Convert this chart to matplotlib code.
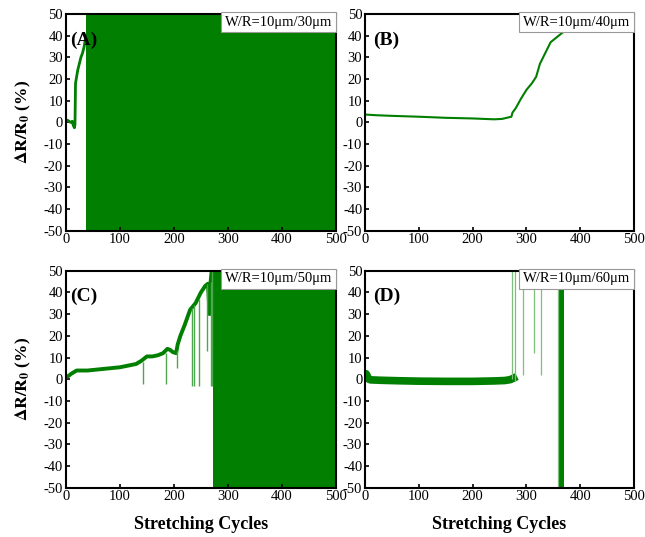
import numpy as np
import matplotlib
matplotlib.use("Agg")
import matplotlib.pyplot as plt

plt.rcParams['font.family'] = ['Liberation Serif', 'DejaVu Serif']
plt.rcParams['mathtext.fontset'] = 'stix'
plt.rcParams['axes.unicode_minus'] = False

GREEN = '#007f00'

### panel A: trace before failure, then broken (noise fills whole range)
a_x = [0, 3, 6, 9, 12, 14, 16, 17, 18, 20, 22, 25, 28, 31, 34, 36]
a_y = [0.5, 1, 0.5, 0, 0.5, -1.5, -2.5, -1, 18, 21, 24, 27, 30, 32, 35, 38]
a_burst_x = [36.5, 500]

### panel B: smooth trace
b_x = [0, 20, 50, 100, 150, 200, 240, 255, 265, 272, 274, 280, 290, 300, 310, 318, 325,
       335, 345, 360, 380, 400, 420]
b_y = [3.6, 3.3, 3.0, 2.6, 2.1, 1.8, 1.4, 1.6, 2.2, 2.6, 4.5, 6.5, 11, 15, 18, 21, 27,
       32, 37, 40, 44, 47, 50]

### panel C: noisy trace, spikes, then broken
c_x = [0, 5, 10, 20, 40, 60, 80, 100, 120, 130, 140, 150, 160, 170, 180, 188, 193, 198, 204,
       207, 212, 220, 230, 240, 250, 258, 263, 266, 268, 270]
c_y = [1, 1.5, 2.5, 4, 4, 4.5, 5, 5.5, 6.5, 7, 8.5, 10.5, 10.5, 11, 12, 14, 13.5, 12.5, 12,
       16, 20, 25, 32, 35, 40, 43, 44, 30, 45, 50]
c_spike_x = [143, 186, 205, 234, 237, 246, 261, 268, 270]
c_spike_lo = [-2, -2, 5, -3, -3, -3, 13, -3, -3]
c_spike_hi = [8, 12, 13, 33, 34, 37, 44, 45, 50]
c_burst_x = [272.5, 500]

### panel D: flat band, a few spikes, short broken burst
d_x = [0, 2, 4, 7, 10, 30, 60, 100, 150, 200, 240, 260, 270, 276]
d_y = [1, 2.5, 1.5, 0, -0.3, -0.5, -0.7, -0.9, -1.0, -1.0, -0.8, -0.6, -0.2, 0.5]
d_spike_x = [274, 279, 293, 314, 327, 358]
d_spike_lo = [0, -1, 2, 12, 2, -50]
d_spike_hi = [50, 50, 50, 50, 50, 50]
d_burst_x = [359, 370.5]

labels = ['W/R=10μm/30μm', 'W/R=10μm/40μm', 'W/R=10μm/50μm', 'W/R=10μm/60μm']
letters = ['(A)', '(B)', '(C)', '(D)']

fig = plt.figure(figsize=(6.45, 5.37), dpi=100)
pos = [[0.102, 0.5704, 0.419, 0.4035], [0.566, 0.5704, 0.417, 0.4035],
       [0.102, 0.0918, 0.419, 0.4041], [0.566, 0.0918, 0.417, 0.4041]]
axs = [fig.add_axes(p) for p in pos]

# A
ax = axs[0]
ax.plot(a_x, a_y, color=GREEN, lw=2.0)
ax.fill_between(a_burst_x, -60, 60, color=GREEN, lw=0)
# B
ax = axs[1]
ax.plot(b_x, b_y, color=GREEN, lw=1.5)
# C
ax = axs[2]
ax.plot(c_x, c_y, color=GREEN, lw=2.8)
ax.vlines(c_spike_x, c_spike_lo, c_spike_hi, color='#4ea64e', lw=1.0)
ax.fill_between(c_burst_x, -60, 60, color=GREEN, lw=0)
# D
ax = axs[3]
ax.plot(d_x, d_y, color=GREEN, lw=5.5)
ax.vlines(d_spike_x, d_spike_lo, d_spike_hi, color='#7cc07c', lw=0.9)
ax.fill_between(d_burst_x, -60, 60, color=GREEN, lw=0)

for i, ax in enumerate(axs):
    ax.set_xlim(0, 500)
    ax.set_ylim(-50, 50)
    ax.set_xticks(np.arange(0, 501, 100))
    ax.set_yticks(np.arange(-50, 51, 10))
    ax.tick_params(direction='in', length=3, width=1.2, labelsize=10.5, pad=2)
    for s in ax.spines.values():
        s.set_linewidth(1.5)
    ax.text(0.985, 0.993, labels[i], transform=ax.transAxes, ha='right', va='top',
            fontsize=10.5, zorder=5,
            bbox=dict(boxstyle='square,pad=0.25', fc='white', ec='#999999', lw=0.8))
    ax.text(0.015 if i % 2 == 0 else 0.03, 0.88, letters[i], transform=ax.transAxes,
            ha='left', va='center', fontsize=14, fontweight='bold', zorder=5)

for ax in [axs[0], axs[2]]:
    ax.set_ylabel(r'$\mathbf{\Delta R/R_0}$ (%)', fontsize=12.5, fontweight='bold', labelpad=8)
for ax in [axs[2], axs[3]]:
    ax.set_xlabel('Stretching Cycles', fontsize=13, fontweight='bold', labelpad=9)

fig.savefig('out.png', dpi=100)
